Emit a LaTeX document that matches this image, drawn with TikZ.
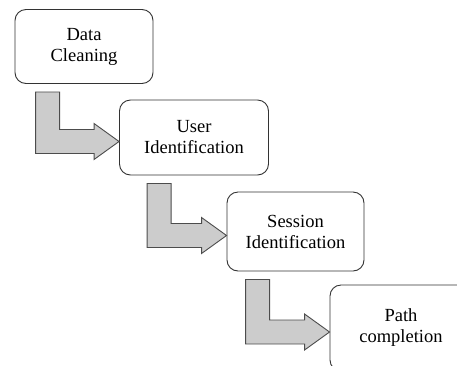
\documentclass[tikz,border=0pt]{standalone}
\usepackage{fontspec}
\setmainfont{Liberation Serif}
\usepackage{tikz}
\usetikzlibrary{calc}

\tikzset{
  stepbox/.style={draw=black!80, line width=0.9pt, rounded corners=11pt, fill=white,
    align=center, inner sep=0pt, font=\fontsize{18.5}{21}\selectfont},
  flowarrow/.style={draw=black!70, line width=0.9pt, fill=black!20, line join=miter}
}

% bent arrow from the foot of one box to the left side of the next %
% #3 = shift of the shaft from the left side of the upper box %
\newcommand{\stepflow}[3]{%
\draw[flowarrow] let \p1=(#1.south west), \p2=(#2.west) in
  (\x1+#3,\y1-8pt) -- (\x1+#3+24pt,\y1-8pt) -- (\x1+#3+24pt,\y2+8pt)
  -- (\x2-25pt,\y2+8pt) -- (\x2-25pt,\y2+14pt) -- (\x2,\y2-4pt)
  -- (\x2-25pt,\y2-22pt) -- (\x2-25pt,\y2-16pt) -- (\x1+#3,\y2-16pt) -- cycle;
}

\begin{document}
\begin{tikzpicture}[x=1pt,y=-1pt]
\useasboundingbox (0,0) rectangle (457,365);
\clip (0,0) rectangle (457,365);

\node[stepbox, minimum width=138pt, minimum height=74pt] (clean) at (84,46.5) {Data\\Cleaning};
\node[stepbox, minimum width=149pt, minimum height=75pt] (user) at (194,137.5) {User\\Identification};
\node[stepbox, minimum width=137pt, minimum height=79pt] (session) at (295.5,231.5) {Session\\Identification};
\node[stepbox, minimum width=142pt, minimum height=86pt] (path) at (401,328) {Path\\completion};

\stepflow{clean}{user}{21pt}
\stepflow{user}{session}{28pt}
\stepflow{session}{path}{19pt}

\end{tikzpicture}
\end{document}
